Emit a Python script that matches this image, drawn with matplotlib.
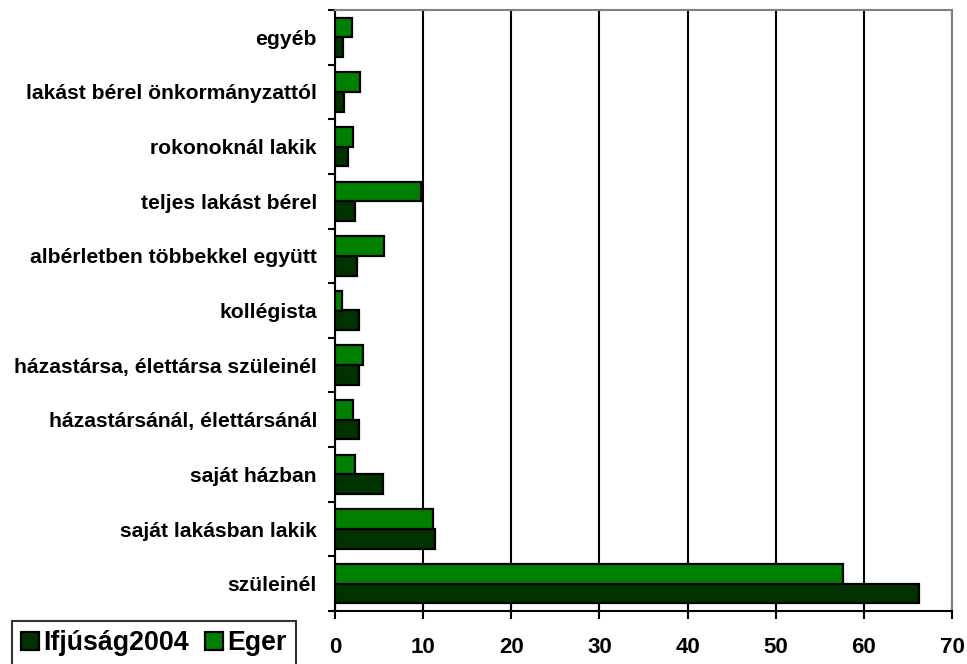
import matplotlib
matplotlib.use("Agg")
import matplotlib.pyplot as plt
import numpy as np

categories = ["szüleinél", "saját lakásban lakik", "saját házban",
              "házastársánál, élettársánál", "házastársa, élettársa szüleinél",
              "kollégista", "albérletben többekkel együtt", "teljes lakást bérel",
              "rokonoknál lakik", "lakást bérel önkormányzattól", "egyéb"]
ifjusag = [66.2, 11.3, 5.5, 2.7, 2.7, 2.7, 2.5, 2.3, 1.5, 1.0, 0.9]
eger = [57.6, 11.1, 2.3, 2.0, 3.2, 0.8, 5.6, 9.8, 2.0, 2.8, 1.9]
xticks = [0, 10, 20, 30, 40, 50, 60, 70]

plt.rcParams['font.family'] = ['Liberation Sans', 'DejaVu Sans']

fig = plt.figure(figsize=(9.67, 6.64), dpi=100)
ax = fig.add_axes([335/967, 1-611/664, (952-335)/967, (611-10)/664])

y = np.arange(len(categories))
h = 0.36
ax.barh(y - h/2, ifjusag, height=h, color='#003300', edgecolor='black', linewidth=1.6, label='Ifjúság2004', zorder=3)
ax.barh(y + h/2, eger, height=h, color='#008000', edgecolor='black', linewidth=1.6, label='Eger', zorder=3)

ax.set_xlim(0, 70)
ax.set_ylim(-0.5, len(categories) - 0.5)
ax.set_xticks(xticks)
ax.set_xticklabels([str(t) for t in xticks], fontsize=16, fontweight='bold')
ax.set_yticks(np.arange(len(categories) + 1) - 0.5)
ax.set_yticklabels([])
ax.set_yticks(y, minor=True)
ax.set_yticklabels(categories, minor=True, fontsize=15.2, fontweight='bold')
ax.tick_params(axis='y', which='minor', length=0, pad=13)
ax.tick_params(axis='y', which='major', length=5, width=1.5, direction='out')
ax.tick_params(axis='x', length=11, width=1.5, direction='inout', pad=13)

ax.grid(axis='x', color='black', linewidth=1.5, zorder=0)
ax.set_axisbelow(True)
for s in ['left', 'bottom']:
    ax.spines[s].set_linewidth(1.5)
    ax.spines[s].set_color('black')
for s in ['top', 'right']:
    ax.spines[s].set_linewidth(1.5)
    ax.spines[s].set_color('#808080')

handles, labels = ax.get_legend_handles_labels()
leg = fig.legend(handles, labels, loc='upper left', bbox_to_anchor=(12/967, 1-621/664),
                 ncol=2, frameon=True, fancybox=False, edgecolor='black',
                 prop={'size': 19.3, 'weight': 'bold'}, handlelength=0.67, handleheight=0.67,
                 handletextpad=0.15, columnspacing=0.6, borderpad=0.35, borderaxespad=0)
leg.get_frame().set_linewidth(1.5)

fig.savefig("out.png", dpi=100)
